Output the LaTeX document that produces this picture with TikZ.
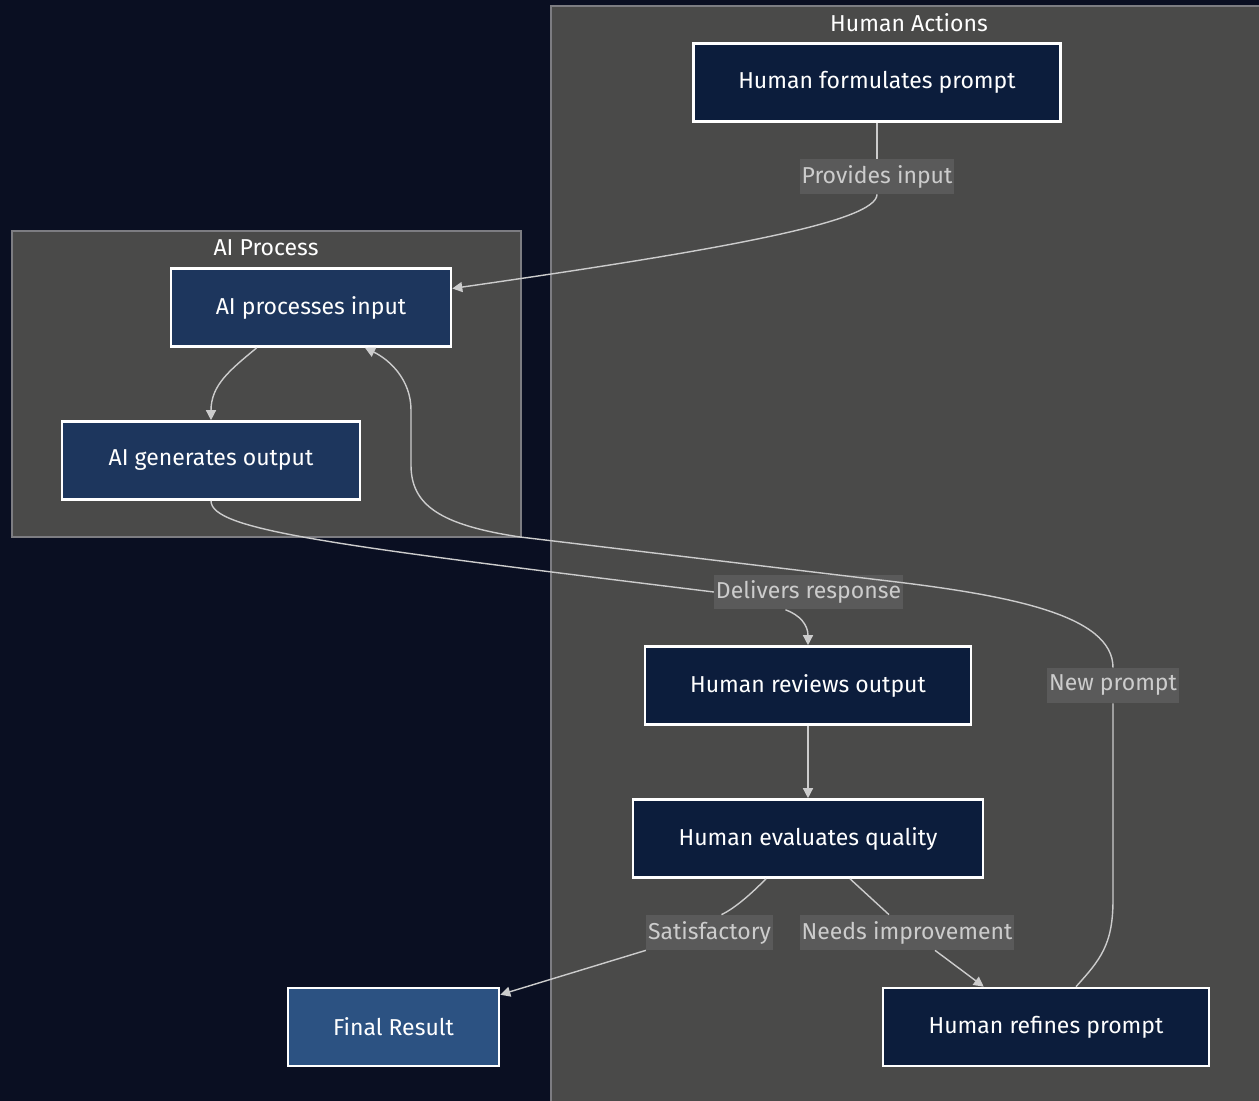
\documentclass[tikz,border=0pt]{standalone}
\usepackage{fontspec}
\setmainfont{Fira Sans}
\usepackage{xcolor}
\usetikzlibrary{arrows.meta, calc}
\definecolor{bgnavy}{RGB}{10,15,34}
\definecolor{clusterfill}{RGB}{74,74,73}
\definecolor{clusterline}{RGB}{125,125,130}
\definecolor{humanfill}{RGB}{12,29,60}
\definecolor{aifill}{RGB}{29,54,93}
\definecolor{resultfill}{RGB}{44,82,130}
\definecolor{edgegray}{RGB}{204,204,204}
\definecolor{labelbg}{RGB}{90,90,90}

\begin{document}
\begin{tikzpicture}[x=0.02cm, y=-0.02cm, >={Triangle[length=0.2cm, width=0.2cm]},
  font=\fontsize{13.1}{15.7}\selectfont,
  box/.style={draw=white, line width=1.5pt, text=white, minimum height=1.56cm, inner sep=0pt},
  human/.style={box, fill=humanfill},
  ai/.style={box, fill=aifill},
  result/.style={box, fill=resultfill},
  elabel/.style={fill=labelbg, text=edgegray, inner xsep=1pt, inner ysep=0pt, minimum height=0.7cm},
  edge/.style={draw=edgegray, line width=0.8pt},
  cluster/.style={fill=clusterfill, draw=clusterline, line width=0.6pt}]
  \useasboundingbox[fill=bgnavy] (0,0) rectangle (1259,1101);
  % subgraphs
  \draw[cluster] (551,6) rectangle (1265,1110);
  \node[text=white] (tha) at (909,23) {Human Actions};
  \draw[cluster] (12,231) rectangle (521,537);
  \node[text=white] (tai) at (266,248) {AI Process};
  % steps
  \node[human, minimum width=7.34cm] (hfp) at (877,82.5) {Human formulates prompt};
  \node[ai, minimum width=5.6cm] (api) at (311,307.5) {AI processes input};
  \node[ai, minimum width=5.96cm] (ago) at (211,460.5) {AI generates output};
  \node[human, minimum width=6.52cm] (hro) at (808,685.5) {Human reviews output};
  \node[human, minimum width=7.0cm] (heq) at (808,838.5) {Human evaluates quality};
  \node[result, minimum width=4.22cm] (fr) at (393.5,1027) {Final Result};
  \node[human, minimum width=6.52cm] (hrp) at (1046,1027) {Human refines prompt};
  % edge labels
  \node[elabel] (lprov) at (877,176.5) {Provides input};
  \node[elabel] (ldel) at (808.5,592) {Delivers response};
  \node[elabel] (lnew) at (1113,685.5) {New prompt};
  \node[elabel] (lsat) at (709.5,932.5) {Satisfactory};
  \node[elabel] (lneed) at (907,932.5) {Needs improvement};
  % connectors
  \draw[edge] (hfp.south) -- (lprov.north);
  \draw[edge, ->] (lprov.south) .. controls (877,222) and (720,250) .. ($(api.east)+(0,-19)$);
  \draw[edge, ->] ($(api.south west)+(87,0)$) .. controls (230,370) and (211,385) .. (ago.north);
  \draw[edge] (ago.south) .. controls (211,530) and (330,545) .. (ldel.west);
  \draw[edge, ->] ($(ldel.south)+(-23,0)$) .. controls (800,615) and (808,625) .. (hro.north);
  \draw[edge, ->] (hro.south) -- (heq.north);
  \draw[edge] ($(heq.south)+(-42,0)$) .. controls (750,895) and (735,908) .. ($(lsat.north)+(12,0)$);
  \draw[edge, ->] (lsat.south west) -- ($(fr.north east)+(0,8)$);
  \draw[edge] ($(heq.south)+(42,0)$) -- ($(lneed.north)+(-18,0)$);
  \draw[edge, ->] ($(lneed.south)+(28,0)$) -- ($(hrp.north west)+(102,0)$);
  \draw[edge] ($(hrp.north)+(30,0)$) .. controls (1100,960) and (1113,945) .. (1113,900) -- (lnew.south);
  \draw[edge, ->] (lnew.north) .. controls (1113,615) and (1010,595) .. (880,580) -- (520,537)
    .. controls (440,525) and (411,505) .. (411,465) -- (411,410)
    .. controls (411,380) and (390,360) .. ($(api.south)+(54,0)$);
\end{tikzpicture}
\end{document}
